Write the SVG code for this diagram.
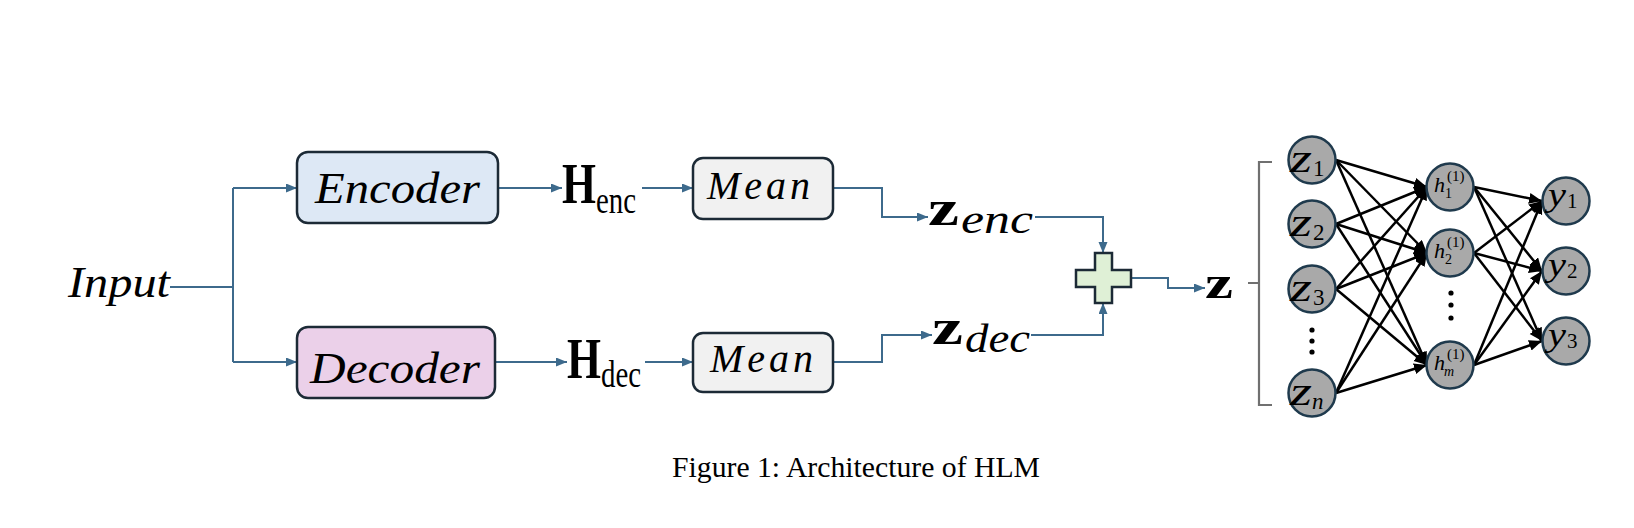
<svg xmlns="http://www.w3.org/2000/svg" width="1634" height="528" viewBox="0 0 1634 528">
<style>
.conn{fill:none;stroke:#3d6a8c;stroke-width:2}
.nn{fill:none;stroke:#000;stroke-width:2.5}
.box{stroke:#1c2a36;stroke-width:2.5}
.it{font-family:"Liberation Serif",serif;font-style:italic;fill:#000}
.rm{font-family:"Liberation Serif",serif;fill:#000}
.bd{font-family:"Liberation Serif",serif;font-weight:bold;fill:#000}
.node{fill:#a9a9a9;stroke:#1f3a4d;stroke-width:2.5}
</style>
<defs>
<marker id="ab" markerUnits="userSpaceOnUse" markerWidth="12" markerHeight="10" refX="11" refY="4.5" orient="auto"><path d="M0,0 L11,4.5 L0,9 z" fill="#3d6a8c"/></marker>
<marker id="ak" markerUnits="userSpaceOnUse" markerWidth="14" markerHeight="12" refX="13" refY="5.5" orient="auto"><path d="M0,0 L13,5.5 L0,11 z" fill="#000"/></marker>
</defs>
<rect width="1634" height="528" fill="#fff"/>

<g id="connectors">
<path class="conn" d="M170,287 H233"/>
<path class="conn" d="M233,188 V362"/>
<path class="conn" d="M233,188 H297" marker-end="url(#ab)"/>
<path class="conn" d="M233,362 H297" marker-end="url(#ab)"/>
<path class="conn" d="M498,188 H562" marker-end="url(#ab)"/>
<path class="conn" d="M495,362 H567" marker-end="url(#ab)"/>
<path class="conn" d="M642,188 H693" marker-end="url(#ab)"/>
<path class="conn" d="M645,362 H693" marker-end="url(#ab)"/>
<path class="conn" d="M833,188 H882 V217 H928" marker-end="url(#ab)"/>
<path class="conn" d="M833,362 H882 V335 H932" marker-end="url(#ab)"/>
<path class="conn" d="M1035,217 H1103 V253" marker-end="url(#ab)"/>
<path class="conn" d="M1031,335 H1103 V303" marker-end="url(#ab)"/>
<path class="conn" d="M1131,278 H1168 V288 H1205" marker-end="url(#ab)"/>
<g marker-end="url(#ak)">
<path class="nn" d="M1336,160 L1427,187"/>
<path class="nn" d="M1336,160 L1427,253"/>
<path class="nn" d="M1336,160 L1427,365"/>
<path class="nn" d="M1336,224 L1427,187"/>
<path class="nn" d="M1336,224 L1427,253"/>
<path class="nn" d="M1336,224 L1427,365"/>
<path class="nn" d="M1336,289 L1427,187"/>
<path class="nn" d="M1336,289 L1427,253"/>
<path class="nn" d="M1336,289 L1427,365"/>
<path class="nn" d="M1336,393 L1427,187"/>
<path class="nn" d="M1336,393 L1427,253"/>
<path class="nn" d="M1336,393 L1427,365"/>
<path class="nn" d="M1474,187 L1542,201"/>
<path class="nn" d="M1474,187 L1542,271"/>
<path class="nn" d="M1474,187 L1542,341"/>
<path class="nn" d="M1474,253 L1542,201"/>
<path class="nn" d="M1474,253 L1542,271"/>
<path class="nn" d="M1474,253 L1542,341"/>
<path class="nn" d="M1474,365 L1542,201"/>
<path class="nn" d="M1474,365 L1542,271"/>
<path class="nn" d="M1474,365 L1542,341"/>
</g>
</g>

<g id="input"><text class="it" x="68" y="297" font-size="44" textLength="102" lengthAdjust="spacingAndGlyphs">Input</text></g>

<g id="encoder">
<rect class="box" x="297" y="152" width="201" height="71" rx="11" fill="#dde8f5"/>
<text class="it" x="315" y="203" font-size="45" textLength="165" lengthAdjust="spacingAndGlyphs">Encoder</text>
</g>
<g id="decoder">
<rect class="box" x="297" y="327" width="198" height="71" rx="11" fill="#ebd0e9"/>
<text class="it" x="310" y="383" font-size="45" textLength="170" lengthAdjust="spacingAndGlyphs">Decoder</text>
</g>

<g id="h_enc">
<text class="rm" transform="translate(562,203) scale(0.78,1)"><tspan font-weight="bold" font-size="56">H</tspan><tspan font-size="37" dy="10">enc</tspan></text>
</g>
<g id="h_dec">
<text class="rm" transform="translate(567,378) scale(0.78,1)"><tspan font-weight="bold" font-size="56">H</tspan><tspan font-size="37" dy="9">dec</tspan></text>
</g>

<g id="mean_enc">
<rect class="box" x="693" y="158" width="140" height="61" rx="10" fill="#f1f1f1"/>
<text class="it" x="707" y="199" font-size="40" textLength="103" lengthAdjust="spacing">Mean</text>
</g>
<g id="mean_dec">
<rect class="box" x="693" y="333" width="140" height="59" rx="10" fill="#f1f1f1"/>
<text class="it" x="710" y="372" font-size="40" textLength="103" lengthAdjust="spacing">Mean</text>
</g>

<g id="z_enc">
<text class="bd" x="928" y="225" font-size="50" textLength="31" lengthAdjust="spacingAndGlyphs">z</text>
<text class="it" x="961" y="233" font-size="40" textLength="72" lengthAdjust="spacingAndGlyphs">enc</text>
</g>
<g id="z_dec">
<text class="bd" x="932" y="344" font-size="50" textLength="31" lengthAdjust="spacingAndGlyphs">z</text>
<text class="it" x="965" y="352" font-size="40" textLength="65" lengthAdjust="spacingAndGlyphs">dec</text>
</g>

<g id="plus">
<path d="M1095,253 H1112 V270 H1131 V287 H1112 V303 H1095 V287 H1076 V270 H1095 Z" fill="#dff0d6" stroke="#1c2a36" stroke-width="2.5"/>
</g>

<g id="z">
<text class="bd" x="1205" y="298" font-size="46" textLength="28" lengthAdjust="spacingAndGlyphs">z</text>
</g>

<g id="bracket">
<path d="M1272,162 H1259 V405 H1272 M1259,283 H1248" fill="none" stroke="#707070" stroke-width="2.2"/>
</g>

<g id="z1"><circle class="node" cx="1312" cy="160" r="23.5"/><text class="it" x="1290" y="172" font-size="40" textLength="22" lengthAdjust="spacingAndGlyphs">z</text><text class="rm" x="1313" y="176" font-size="23">1</text></g>
<g id="z2"><circle class="node" cx="1312" cy="224" r="23.5"/><text class="it" x="1290" y="236" font-size="40" textLength="22" lengthAdjust="spacingAndGlyphs">z</text><text class="rm" x="1313" y="240" font-size="23">2</text></g>
<g id="z3"><circle class="node" cx="1312" cy="289" r="23.5"/><text class="it" x="1290" y="301" font-size="40" textLength="22" lengthAdjust="spacingAndGlyphs">z</text><text class="rm" x="1313" y="305" font-size="23">3</text></g>
<g id="zdots"><circle cx="1312" cy="330" r="2.6"/><circle cx="1312" cy="341" r="2.6"/><circle cx="1312" cy="352" r="2.6"/></g>
<g id="zn"><circle class="node" cx="1312" cy="393" r="23.5"/><text class="it" x="1290" y="405" font-size="40" textLength="22" lengthAdjust="spacingAndGlyphs">z</text><text class="it" x="1312" y="409" font-size="23">n</text></g>

<g id="h1"><circle class="node" cx="1450" cy="187" r="23.5"/><text class="it" x="1434" y="192" font-size="22">h</text><text class="rm" x="1445" y="198" font-size="14">1</text><text class="rm" x="1447" y="181" font-size="15">(1)</text></g>
<g id="h2"><circle class="node" cx="1450" cy="253" r="23.5"/><text class="it" x="1434" y="258" font-size="22">h</text><text class="rm" x="1445" y="264" font-size="14">2</text><text class="rm" x="1447" y="247" font-size="15">(1)</text></g>
<g id="hdots"><circle cx="1451" cy="293" r="2.6"/><circle cx="1451" cy="305" r="2.6"/><circle cx="1451" cy="318" r="2.6"/></g>
<g id="hm"><circle class="node" cx="1450" cy="365" r="23.5"/><text class="it" x="1434" y="370" font-size="22">h</text><text class="it" x="1444" y="376" font-size="14">m</text><text class="rm" x="1447" y="359" font-size="15">(1)</text></g>

<g id="y1"><circle class="node" cx="1566" cy="201" r="23.5"/><text class="it" x="1548" y="206" font-size="34" textLength="18" lengthAdjust="spacingAndGlyphs">y</text><text class="rm" x="1567" y="208" font-size="21">1</text></g>
<g id="y2"><circle class="node" cx="1566" cy="271" r="23.5"/><text class="it" x="1548" y="276" font-size="34" textLength="18" lengthAdjust="spacingAndGlyphs">y</text><text class="rm" x="1567" y="278" font-size="21">2</text></g>
<g id="y3"><circle class="node" cx="1566" cy="341" r="23.5"/><text class="it" x="1548" y="346" font-size="34" textLength="18" lengthAdjust="spacingAndGlyphs">y</text><text class="rm" x="1567" y="348" font-size="21">3</text></g>

<g id="caption"><text class="rm" x="672" y="477" font-size="30" textLength="368" lengthAdjust="spacingAndGlyphs">Figure 1: Architecture of HLM</text></g>
</svg>
